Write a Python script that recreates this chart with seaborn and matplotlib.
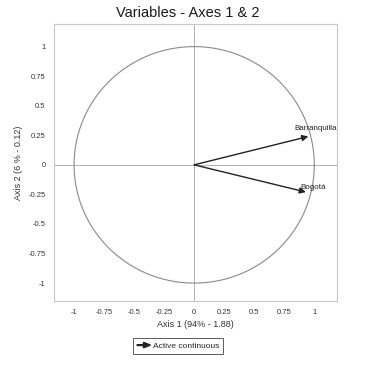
import numpy as np
import pandas as pd
import seaborn as sns
import matplotlib.pyplot as plt
from matplotlib.patches import FancyArrow
from matplotlib.legend_handler import HandlerPatch

# Variables and their coordinates on the first two axes
variables = ["Barranquilla", "Bogotá"]
axis1 = [0.95, 0.93]
axis2 = [0.24, -0.23]
ticks = [-1, -0.75, -0.5, -0.25, 0, 0.25, 0.5, 0.75, 1]
tick_labels = ["-1", "-0.75", "-0.5", "-0.25", "0", "0.25", "0.5", "0.75", "1"]

sns.set_style("white")
plt.rcParams['font.family'] = ['Liberation Sans', 'DejaVu Sans']

fig = plt.figure(figsize=(3.75, 3.77), dpi=100)
ax = fig.add_axes([0.144, 0.202, 0.755, 0.734])

# correlation circle
theta = np.linspace(0, 2 * np.pi, 361)
circle = pd.DataFrame({"x": np.cos(theta), "y": np.sin(theta)})
sns.lineplot(data=circle, x="x", y="y", sort=False, estimator=None, errorbar=None,
             color="#8a8a8a", lw=0.8, ax=ax)

ax.axhline(0, color="#b0b0b0", lw=0.7, zorder=0)
ax.axvline(0, color="#b0b0b0", lw=0.7, zorder=0)

for name, x, y in zip(variables, axis1, axis2):
    ax.annotate("", xy=(x, y), xytext=(0, 0),
                arrowprops=dict(arrowstyle="-|>", color="#222222", lw=1.0,
                                mutation_scale=9, shrinkA=0, shrinkB=0))
    ax.annotate(name, xy=(x, y), xytext=(x + 0.06, y + (0.065 if y > 0 else 0.035)),
                fontsize=5.8, ha="center", va="center", color="#222222")

ax.set_xlim(-1.167, 1.19)
ax.set_ylim(-1.15, 1.19)
ax.set_xticks(ticks)
ax.set_xticklabels(tick_labels)
ax.set_yticks(ticks)
ax.set_yticklabels(tick_labels)
ax.set_xlabel("Axis 1 (94% - 1.88)", fontsize=6.5, color="#333333", labelpad=3)
ax.set_ylabel("Axis 2 (6 % - 0.12)", fontsize=6.5, color="#333333", labelpad=4)
ax.tick_params(labelsize=5.5, length=0, pad=6, colors="#333333")
for s in ax.spines.values():
    s.set_color("#c8c8c8")
    s.set_linewidth(0.8)

fig.text(0.5, 0.965, "Variables - Axes 1 & 2", fontsize=10.5, ha="center", va="center", color="#1a1a1a")


def make_arrow(legend, orig_handle, xdescent, ydescent, width, height, fontsize):
    return FancyArrow(0, height / 2, width, 0, width=0.6, head_width=4,
                      head_length=5, length_includes_head=True, color="#222222")


handle = FancyArrow(0, 0, 1, 0, color="#222222")
leg = fig.legend([handle], ["Active continuous"], loc="center", bbox_to_anchor=(0.475, 0.082),
                 fontsize=6, frameon=True, fancybox=False, edgecolor="#333333",
                 handlelength=1.6, borderpad=0.45, handletextpad=0.3,
                 handler_map={FancyArrow: HandlerPatch(patch_func=make_arrow)})
leg.get_frame().set_linewidth(0.7)

fig.savefig("out.png", dpi=100)
